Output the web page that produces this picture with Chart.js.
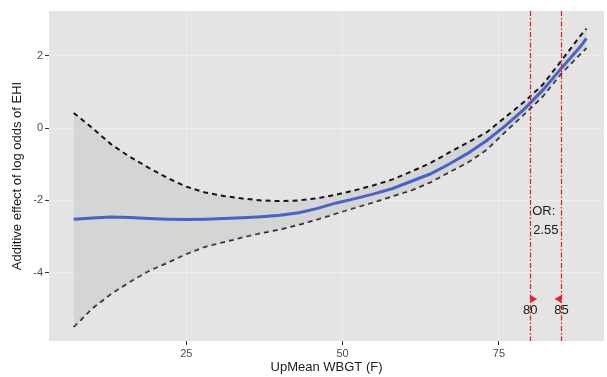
<!DOCTYPE html>
<html>
<head>
<meta charset="utf-8">
<script src="https://cdn.jsdelivr.net/npm/chart.js@4.4.1/dist/chart.umd.min.js"></script>
<style>
html,body{margin:0;padding:0;background:#fff;}
#wrap{width:607px;height:377px;}
</style>
</head>
<body>
<div id="wrap"><canvas id="c" width="607" height="377"></canvas></div>
<script>
const xs    = [7, 10, 13, 16, 19, 22, 25, 28, 31, 34, 37, 40, 43, 46, 49, 52, 55, 58, 61, 64, 67, 70, 73, 76, 79, 82, 85, 88, 89];
const fit   = [-2.52,-2.49,-2.46,-2.47,-2.50,-2.52,-2.53,-2.52,-2.50,-2.48,-2.45,-2.41,-2.34,-2.22,-2.07,-1.95,-1.82,-1.67,-1.47,-1.27,-1.00,-0.70,-0.35,0.06,0.52,1.05,1.66,2.25,2.48];
const upper = [0.42,0.00,-0.45,-0.80,-1.10,-1.38,-1.62,-1.78,-1.88,-1.95,-2.00,-2.02,-2.00,-1.94,-1.84,-1.72,-1.58,-1.42,-1.20,-0.97,-0.68,-0.40,-0.12,0.30,0.72,1.20,1.87,2.55,2.75];
const lower = [-5.50,-4.98,-4.58,-4.25,-3.95,-3.72,-3.48,-3.28,-3.15,-3.02,-2.90,-2.80,-2.67,-2.52,-2.36,-2.20,-2.05,-1.88,-1.72,-1.50,-1.22,-0.95,-0.60,-0.10,0.38,0.88,1.52,2.05,2.22];
const xTicks = [25, 50, 75];
const yTicks = [-4, -2, 0, 2];
const cutoffs = [80, 85];
const markerY = -4.73;
const orLabel = ["OR:", "2.55"];
const xTitle = "UpMean WBGT (F)";
const yTitle = "Additive effect of log odds of EHI";

const pts = arr => xs.map((x,i)=>({x:x, y:arr[i]}));
const FONT = '"Liberation Sans", Arial, sans-serif';

const panelBg = {
  id:'panelBg',
  beforeDraw(chart){
    const {ctx, chartArea:a} = chart;
    ctx.save();
    ctx.fillStyle = '#e4e4e4';
    ctx.fillRect(a.left, a.top, a.right-a.left, a.bottom-a.top);
    ctx.restore();
  }
};

const annot = {
  id:'annot',
  afterDatasetsDraw(chart){
    const {ctx, chartArea:a, scales:{x, y}} = chart;
    ctx.save();
    ctx.beginPath();
    ctx.rect(a.left, a.top, a.right-a.left, a.bottom-a.top);
    ctx.clip();
    cutoffs.forEach(v=>{
      const px = Math.round(x.getPixelForValue(v))+0.5;
      ctx.strokeStyle = '#e41a1c';
      ctx.lineWidth = 1.2;
      ctx.setLineDash([5,2,1.5,2]);
      ctx.lineDashOffset = 0;
      ctx.beginPath(); ctx.moveTo(px, a.top); ctx.lineTo(px, a.bottom); ctx.stroke();
    });
    ctx.setLineDash([]);
    const my = y.getPixelForValue(markerY);
    ctx.fillStyle = '#e8202a';
    const p0 = x.getPixelForValue(cutoffs[0]);
    ctx.beginPath(); ctx.moveTo(p0, my-4); ctx.lineTo(p0+7, my); ctx.lineTo(p0, my+4); ctx.closePath(); ctx.fill();
    const p1 = x.getPixelForValue(cutoffs[1]);
    ctx.beginPath(); ctx.moveTo(p1, my-4); ctx.lineTo(p1-7, my); ctx.lineTo(p1, my+4); ctx.closePath(); ctx.fill();
    ctx.fillStyle = '#1a1a1a';
    ctx.font = '13px ' + FONT;
    ctx.textAlign = 'center'; ctx.textBaseline = 'middle';
    cutoffs.forEach(v=>{ ctx.fillText(String(v), x.getPixelForValue(v), my+11); });
    ctx.textAlign = 'left';
    const lx = x.getPixelForValue(cutoffs[0]) + 2;
    ctx.fillText(orLabel[0], lx, y.getPixelForValue(-2.3));
    ctx.fillText(orLabel[1], lx+1, y.getPixelForValue(-2.83));
    ctx.restore();
  }
};

new Chart(document.getElementById('c'), {
  type:'scatter',
  data:{
    datasets:[
      {data:pts(fit), showLine:true, borderColor:'#4a62c8', borderWidth:3, pointRadius:0, fill:false, order:0},
      {data:pts(upper), showLine:true, borderColor:'#151515', borderWidth:2, borderDash:[5,4], pointRadius:0, fill:'+1', backgroundColor:'rgba(200,200,200,0.55)', order:1},
      {data:pts(lower), showLine:true, borderColor:'#151515', borderWidth:2, borderDash:[5,4], pointRadius:0, fill:false, order:2}
    ]
  },
  options:{
    responsive:false, animation:false,
    layout:{padding:{top:11, right:3, left:0, bottom:0}},
    plugins:{legend:{display:false}, tooltip:{enabled:false}},
    scales:{
      x:{
        type:'linear', min:3.05, max:91.8,
        afterBuildTicks(s){ s.ticks = xTicks.map(v=>({value:v})); },
        afterFit(s){ s.height = 36; },
        grid:{color:'#ececec', lineWidth:1, tickLength:4, tickColor:'#333', drawTicks:true},
        border:{display:false},
        ticks:{color:'#4d4d4d', font:{family:FONT, size:11}, padding:2, maxRotation:0},
        title:{display:true, text:xTitle, color:'#1a1a1a', font:{family:FONT, size:13}, padding:{top:0,bottom:2}}
      },
      y:{
        type:'linear', min:-5.89, max:3.24,
        afterBuildTicks(s){ s.ticks = yTicks.map(v=>({value:v})); },
        afterFit(s){ s.width = 49; },
        grid:{color:'#ececec', lineWidth:1, tickLength:4, tickColor:'#333', drawTicks:true},
        border:{display:false},
        ticks:{color:'#4d4d4d', font:{family:FONT, size:11}, padding:2},
        title:{display:true, text:yTitle, color:'#1a1a1a', font:{family:FONT, size:13}, padding:{top:10,bottom:0}}
      }
    }
  },
  plugins:[panelBg, annot]
});
</script>
</body>
</html>
